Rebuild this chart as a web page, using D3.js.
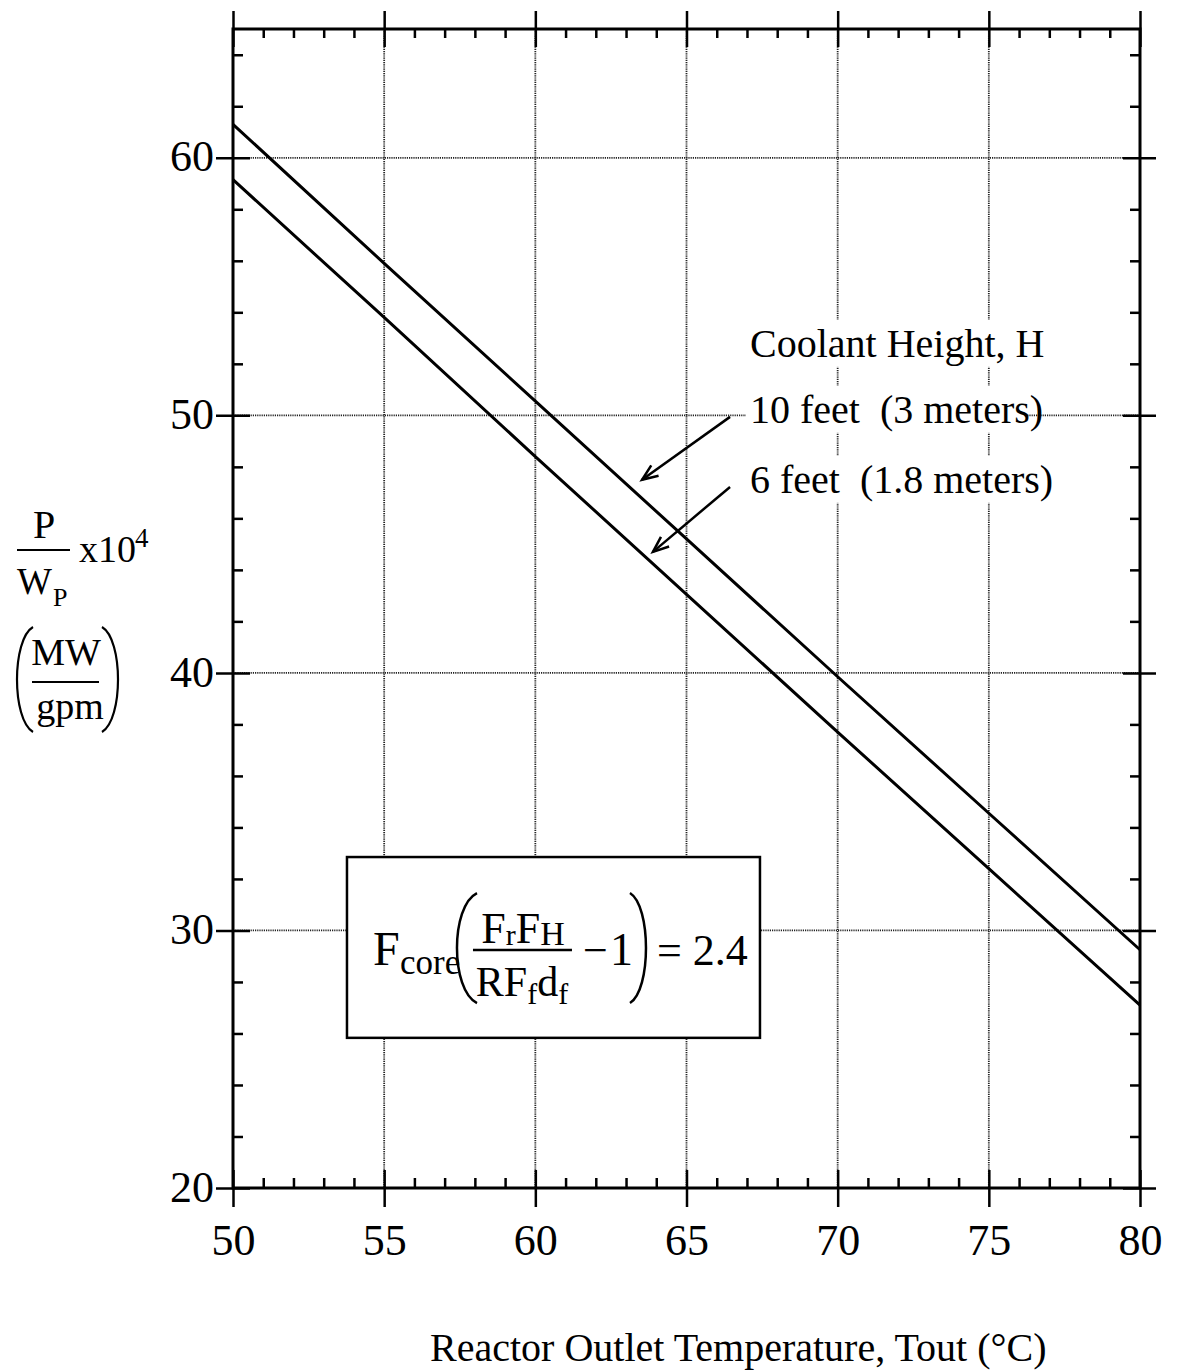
<!DOCTYPE html>
<html>
<head>
<meta charset="utf-8">
<script src="https://cdn.jsdelivr.net/npm/d3@7"></script>
<style>
  body { margin: 0; background: #fff; }
  svg { display: block; }
  text { font-family: 'Liberation Serif', 'Times New Roman', serif; fill: #000; white-space: pre; }
</style>
</head>
<body>
<svg width="1177" height="1370"></svg>
<script>

// reactor outlet temperature (C)
let temps = [50, 55, 60, 65, 70, 75, 80];
// P/Wp x10^4 (MW/gpm)
let h10ft = [61.3, 55.9, 50.55, 45.2, 39.85, 34.55, 29.25];
let h6ft  = [59.15, 53.8, 48.4, 43.05, 37.7, 32.4, 27.1];

let xMajor = [50, 55, 60, 65, 70, 75, 80];
let xMinor = d3.range(51, 80, 1).filter(d => d % 5 != 0);
let yMajor = [20, 30, 40, 50, 60];
let yMinor = d3.range(22, 65, 2).filter(d => d % 10 != 0);

let legendTitle = 'Coolant Height, H';
let legendLabels = ['10 feet  (3 meters)', '6 feet  (1.8 meters)'];

drawChart();

function drawChart() {

  let svg = d3.select('svg');

  let xScale = d3.scaleLinear()
                 .domain([50, 80])
                 .range([233, 1140]);

  let yScale = d3.scaleLinear()
                 .domain([20, 65])
                 .range([1188, 29]);

  // dotted grid
  svg.append('g')
     .selectAll('line')
     .data(xMajor.slice(1, -1))
     .join('line')
     .attr('x1', d => xScale(d)).attr('x2', d => xScale(d))
     .attr('y1', yScale(65)).attr('y2', yScale(20))
     .attr('stroke', '#222').attr('stroke-width', 1.8)
     .attr('stroke-dasharray', '1.2,1');

  svg.append('g')
     .selectAll('line')
     .data(yMajor.slice(1))
     .join('line')
     .attr('x1', xScale(50)).attr('x2', xScale(80))
     .attr('y1', d => yScale(d)).attr('y2', d => yScale(d))
     .attr('stroke', '#222').attr('stroke-width', 1.8)
     .attr('stroke-dasharray', '1.2,1');

  // curves
  let line = d3.line()
               .x((d, i) => xScale(temps[i]))
               .y(d => yScale(d));

  [h10ft, h6ft].forEach(function(s) {
    svg.append('path')
       .attr('d', line(s))
       .attr('fill', 'none')
       .attr('stroke', 'black')
       .attr('stroke-width', 3);
  });

  // frame
  svg.append('rect')
     .attr('x', xScale(50)).attr('y', yScale(65))
     .attr('width', xScale(80) - xScale(50))
     .attr('height', yScale(20) - yScale(65))
     .attr('fill', 'none')
     .attr('stroke', 'black')
     .attr('stroke-width', 3);

  // axes: major ticks cross the frame, minor ticks point inward
  let bottomMajor = d3.axisBottom(xScale).tickValues(xMajor).tickSize(37).tickPadding(17);
  svg.append('g').attr('id', 'xAxisG')
     .attr('transform', 'translate(0,' + (yScale(20) - 18) + ')')
     .call(bottomMajor);

  svg.append('g')
     .attr('transform', 'translate(0,' + yScale(20) + ')')
     .call(d3.axisTop(xScale).tickValues(xMinor).tickSize(10).tickFormat(''));

  svg.append('g')
     .attr('transform', 'translate(0,' + (yScale(65) - 18) + ')')
     .call(d3.axisBottom(xScale).tickValues(xMajor).tickSize(36).tickFormat(''));

  svg.append('g')
     .attr('transform', 'translate(0,' + yScale(65) + ')')
     .call(d3.axisBottom(xScale).tickValues(xMinor).tickSize(9).tickFormat(''));

  let leftMajor = d3.axisLeft(yScale).tickValues(yMajor).tickSize(34).tickPadding(2);
  svg.append('g').attr('id', 'yAxisG')
     .attr('transform', 'translate(' + (xScale(50) + 17) + ',0)')
     .call(leftMajor);

  svg.append('g')
     .attr('transform', 'translate(' + xScale(50) + ',0)')
     .call(d3.axisRight(yScale).tickValues(yMinor).tickSize(10).tickFormat(''));

  svg.append('g')
     .attr('transform', 'translate(' + (xScale(80) - 17) + ',0)')
     .call(d3.axisRight(yScale).tickValues(yMajor).tickSize(33).tickFormat(''));

  svg.append('g')
     .attr('transform', 'translate(' + xScale(80) + ',0)')
     .call(d3.axisLeft(yScale).tickValues(yMinor).tickSize(10).tickFormat(''));

  svg.selectAll('.domain').remove();
  svg.selectAll('.tick line').attr('stroke', 'black').attr('stroke-width', 2.5);
  svg.selectAll('.tick text')
     .style('font-family', "'Liberation Serif', serif")
     .style('font-size', '44px')
     .attr('fill', 'black');
  svg.selectAll('#yAxisG .tick text').attr('dy', '0.3em');

  // legend text with white backing
  let legY = [52.27, 49.71, 46.99];
  let legG = svg.append('g');
  [legendTitle].concat(legendLabels).forEach(function(s, i) {
    let t = legG.append('text')
                .attr('x', xScale(67.1))
                .attr('y', yScale(legY[i]))
                .style('font-size', '40px')
                .text(s);
    let bb = t.node().getBBox();
    legG.insert('rect', 'text')
        .attr('x', bb.x - 4).attr('y', yScale(legY[i]) - 37)
        .attr('width', bb.width + (i == 1 ? -14 : 4)).attr('height', 47)
        .attr('fill', 'white');
  });

  // arrows
  let arrows = [
    [[66.44, 49.94], [63.53, 47.50]],
    [[66.44, 47.22], [63.89, 44.70]]
  ];
  arrows.forEach(function(a) {
    let x0 = xScale(a[0][0]), y0 = yScale(a[0][1]);
    let x1 = xScale(a[1][0]), y1 = yScale(a[1][1]);
    let ang = Math.atan2(y1 - y0, x1 - x0);
    let len = 17, spread = 0.38;
    svg.append('line')
       .attr('x1', x0).attr('y1', y0).attr('x2', x1).attr('y2', y1)
       .attr('stroke', 'black').attr('stroke-width', 2.5);
    svg.append('path')
       .attr('d', 'M' + (x1 - len * Math.cos(ang - spread)) + ',' + (y1 - len * Math.sin(ang - spread)) +
                  'L' + x1 + ',' + y1 +
                  'L' + (x1 - len * Math.cos(ang + spread)) + ',' + (y1 - len * Math.sin(ang + spread)))
       .attr('fill', 'none').attr('stroke', 'black').attr('stroke-width', 2.5);
  });

  // formula box
  let bx = xScale(53.77), by = yScale(32.85);
  svg.append('rect')
     .attr('x', bx).attr('y', by)
     .attr('width', xScale(67.43) - bx)
     .attr('height', yScale(25.83) - by)
     .attr('fill', 'white')
     .attr('stroke', 'black')
     .attr('stroke-width', 2.5);

  let fg = svg.append('g').attr('transform', 'translate(' + bx + ',' + by + ')');
  fg.append('text').attr('x', 26).attr('y', 108).style('font-size', '48px').text('F');
  fg.append('text').attr('x', 53).attr('y', 117).style('font-size', '35px').text('core');
  paren(fg, 130, 110, 36, 146, 2.5);
  let num = fg.append('text').attr('x', 176).attr('y', 86).attr('text-anchor', 'middle').style('font-size', '44px');
  num.append('tspan').text('F');
  num.append('tspan').attr('dy', 2).style('font-size', '30px').text('r');
  num.append('tspan').attr('dy', -2).text('F');
  num.append('tspan').attr('dy', 2).style('font-size', '34px').text('H');
  fg.append('line').attr('x1', 126).attr('x2', 225).attr('y1', 93).attr('y2', 93)
    .attr('stroke', 'black').attr('stroke-width', 2.5);
  let den = fg.append('text').attr('x', 175).attr('y', 139).attr('text-anchor', 'middle').style('font-size', '42px');
  den.append('tspan').text('RF');
  den.append('tspan').attr('dy', 8).style('font-size', '30px').text('f');
  den.append('tspan').attr('dy', -8).text('d');
  den.append('tspan').attr('dy', 8).style('font-size', '30px').text('f');
  fg.append('text').attr('x', 236).attr('y', 108).style('font-size', '44px').text('\u2212');
  fg.append('text').attr('x', 263).attr('y', 108).style('font-size', '46px').text('1');
  paren(fg, 283, 299, 36, 146, 2.5);
  fg.append('text').attr('x', 310).attr('y', 108).style('font-size', '44px').text('= 2.4');

  // y axis label
  let yl = svg.append('g');
  yl.append('text').attr('x', 44).attr('y', 538).attr('text-anchor', 'middle').style('font-size', '40px').text('P');
  yl.append('line').attr('x1', 17).attr('x2', 70).attr('y1', 550).attr('y2', 550)
    .attr('stroke', 'black').attr('stroke-width', 2.2);
  yl.append('text').attr('x', 17).attr('y', 594).style('font-size', '37px').text('W');
  yl.append('text').attr('x', 53).attr('y', 606).style('font-size', '26px').text('P');
  yl.append('text').attr('x', 79).attr('y', 562).style('font-size', '38px').text('x10');
  yl.append('text').attr('x', 135).attr('y', 547).style('font-size', '27px').text('4');
  paren(yl, 33, 17, 627, 732, 2.2);
  yl.append('text').attr('x', 66).attr('y', 665).attr('text-anchor', 'middle').style('font-size', '38px').text('MW');
  yl.append('line').attr('x1', 32).attr('x2', 99).attr('y1', 682).attr('y2', 682)
    .attr('stroke', 'black').attr('stroke-width', 2.2);
  yl.append('text').attr('x', 70).attr('y', 719).attr('text-anchor', 'middle').style('font-size', '38px').text('gpm');
  paren(yl, 102, 118, 627, 732, 2.2);

  // x axis title
  svg.append('text')
     .attr('x', 430).attr('y', 1361)
     .style('font-size', '40px')
     .text('Reactor Outlet Temperature, Tout (\u00B0C)');
}

// big parenthesis: xEnd is where the tips sit, xMid is where it bulges to
function paren(g, xEnd, xMid, y0, y1, w) {
  let h = y1 - y0;
  let c = xEnd + (xMid - xEnd) * 4 / 3;
  g.append('path')
   .attr('d', 'M' + xEnd + ',' + y0 + 'C' + c + ',' + (y0 + h * 0.12) + ' ' + c + ',' + (y1 - h * 0.12) + ' ' + xEnd + ',' + y1)
   .attr('fill', 'none')
   .attr('stroke', 'black')
   .attr('stroke-width', w);
}

</script>
</body>
</html>
